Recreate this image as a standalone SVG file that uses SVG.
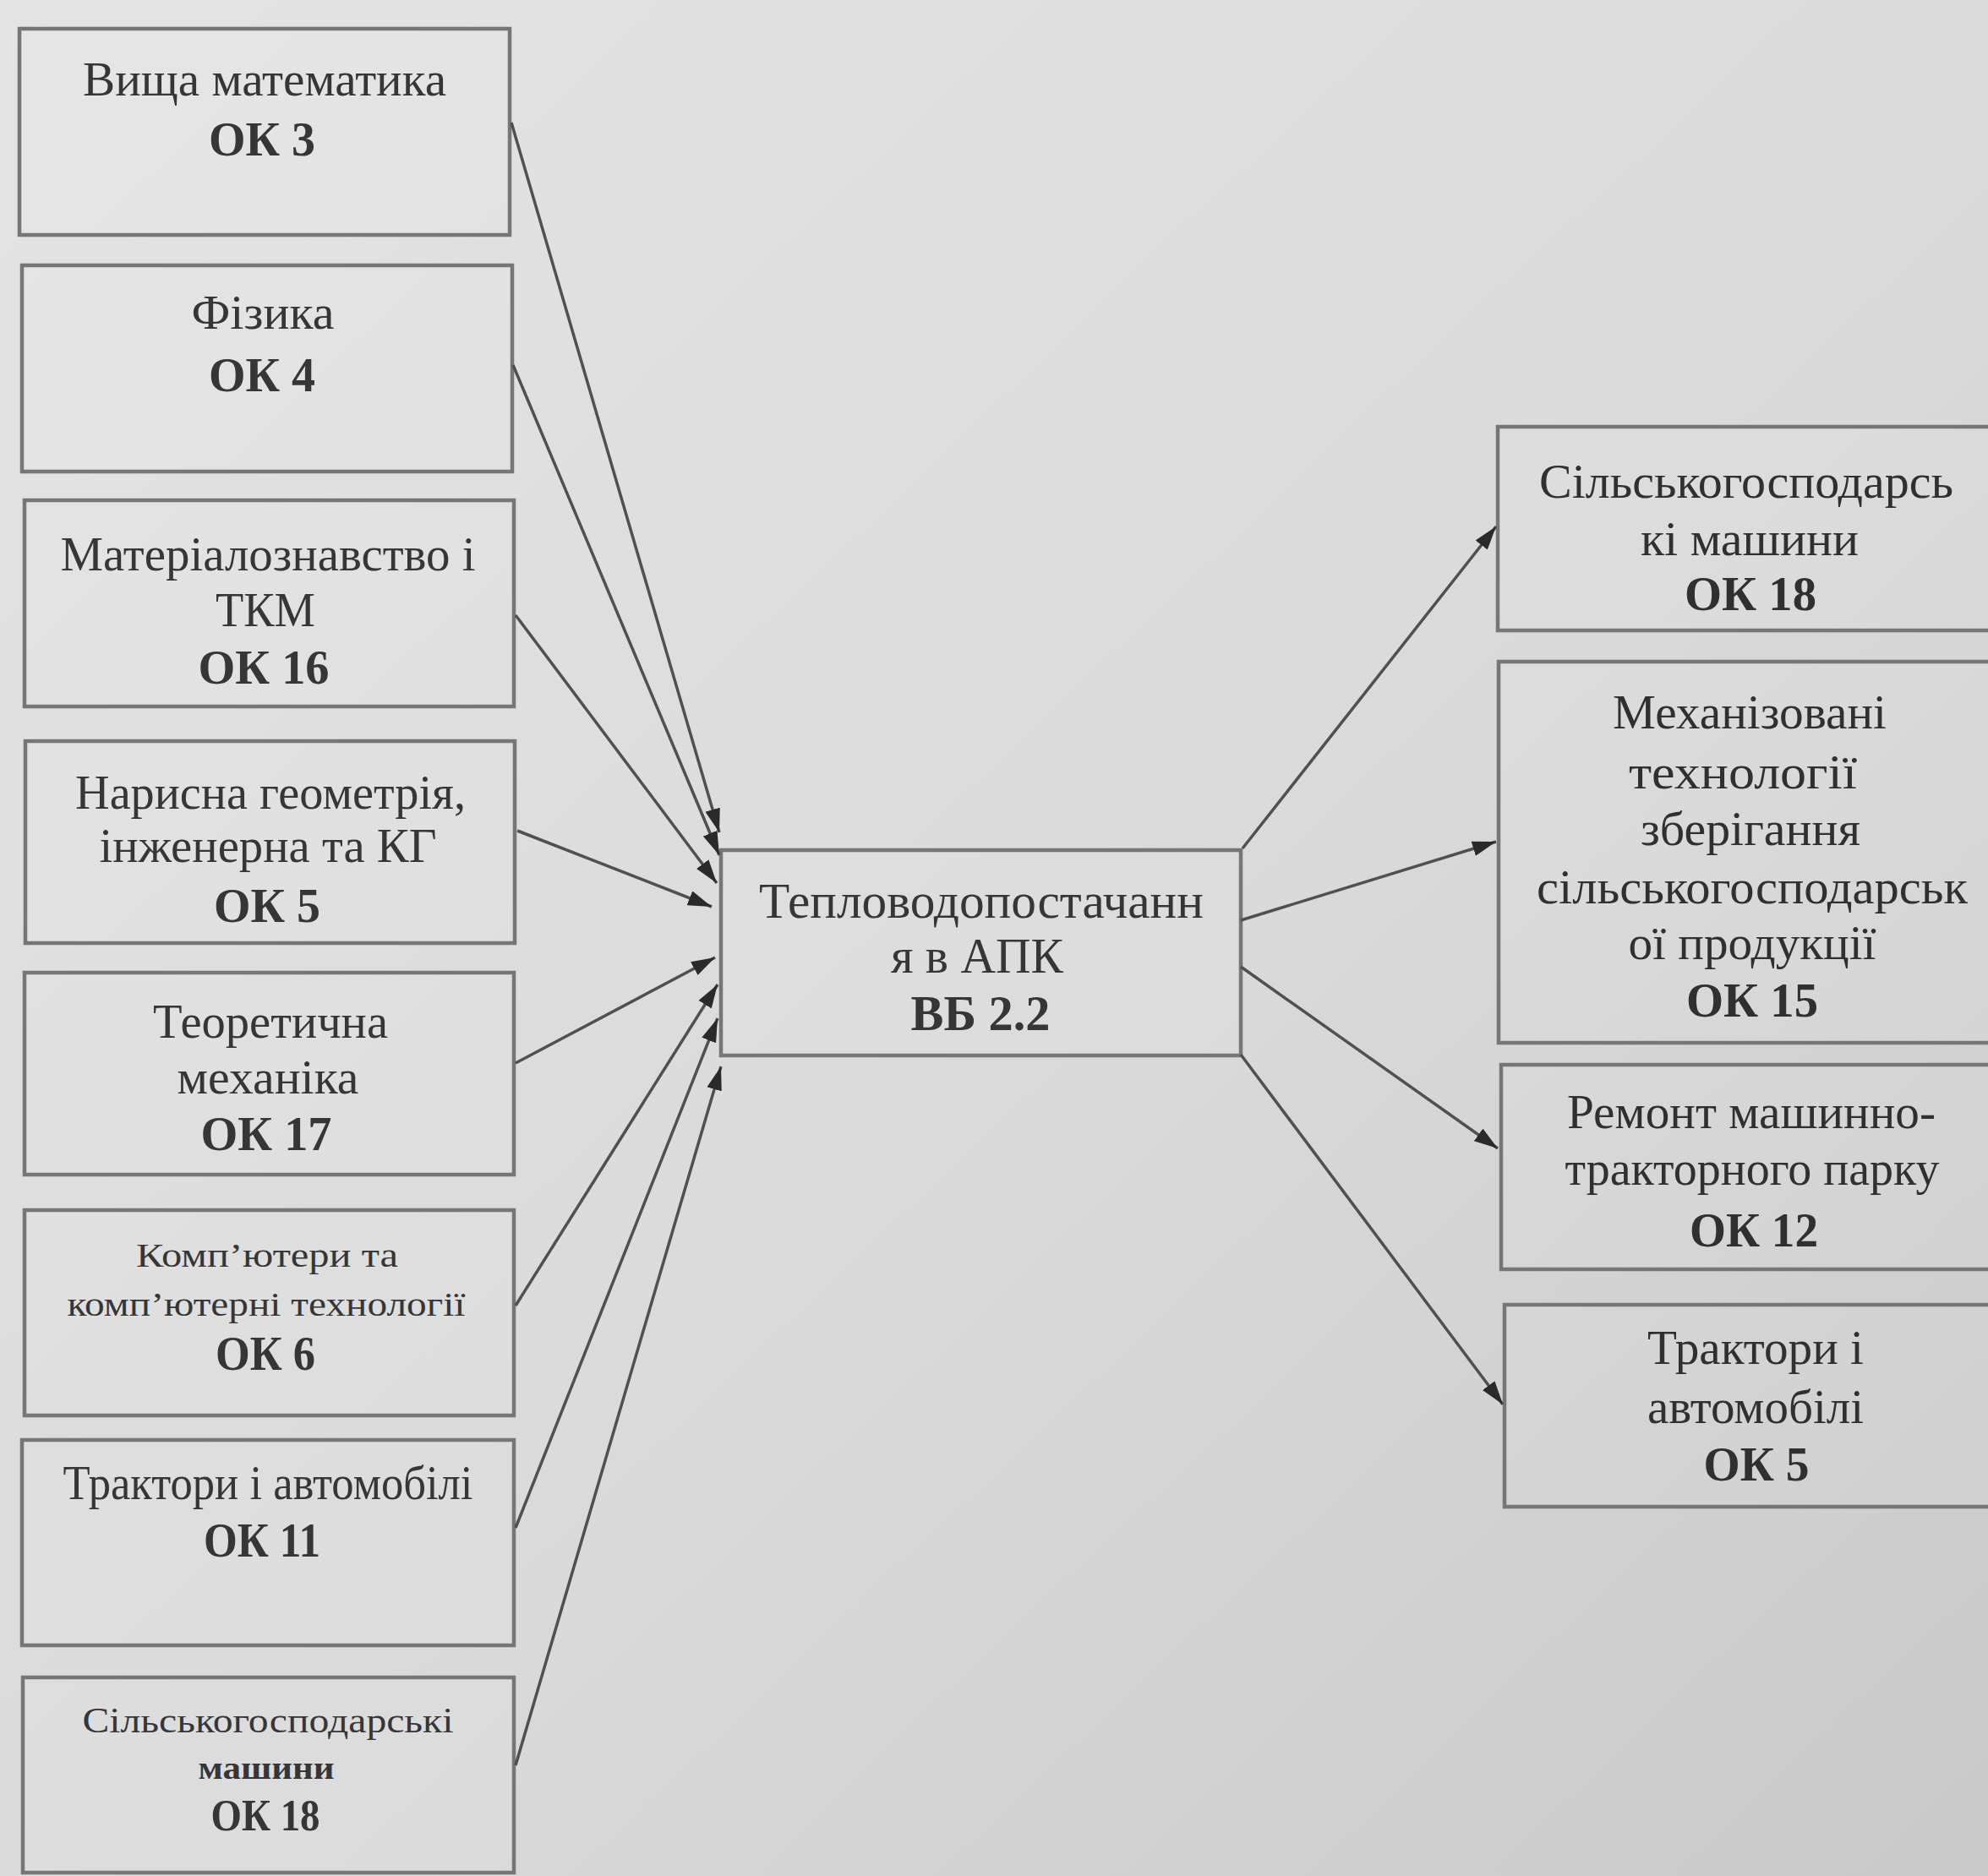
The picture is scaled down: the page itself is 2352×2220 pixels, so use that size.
<svg xmlns="http://www.w3.org/2000/svg" width="2352" height="2220" viewBox="0 0 2352 2220">
<defs>
<linearGradient id="bg" x1="0" y1="0" x2="1" y2="1">
<stop offset="0" stop-color="#e4e4e4"/>
<stop offset="0.55" stop-color="#dadada"/>
<stop offset="1" stop-color="#c9c9c9"/>
</linearGradient>
<marker id="ah" markerUnits="userSpaceOnUse" markerWidth="30" markerHeight="18" refX="28" refY="9" orient="auto">
<path d="M0,0 L28,9 L0,18 z" fill="#2a2a2a"/>
</marker>
<style>
.box{fill:#ffffff;fill-opacity:0.08;stroke:#767676;stroke-width:4.5}
.t{font-family:"Liberation Serif","Times New Roman",serif;fill:#363636;text-anchor:middle}
.r{font-family:"Liberation Serif","Times New Roman",serif;fill:#303030;text-anchor:middle}
.b{font-weight:bold}
.con{stroke:#505050;stroke-width:3.5;fill:none;marker-end:url(#ah)}
</style>
</defs>
<rect width="2352" height="2220" fill="url(#bg)"/>

<g id="n1">
<rect class="box" x="23" y="34" width="580" height="244"/>
<text class="t" x="313" y="113" font-size="56" textLength="430" lengthAdjust="spacingAndGlyphs">Вища математика</text>
<text class="t b" x="310" y="184" font-size="56" textLength="126" lengthAdjust="spacingAndGlyphs">ОК 3</text>
</g>
<g id="n2">
<rect class="box" x="26" y="314" width="580" height="244"/>
<text class="t" x="311" y="389" font-size="56" textLength="169" lengthAdjust="spacingAndGlyphs">Фізика</text>
<text class="t b" x="310" y="463" font-size="56" textLength="126" lengthAdjust="spacingAndGlyphs">ОК 4</text>
</g>
<g id="n3">
<rect class="box" x="29" y="592" width="579" height="244"/>
<text class="t" x="317" y="675" font-size="56" textLength="491" lengthAdjust="spacingAndGlyphs">Матеріалознавство і</text>
<text class="t" x="314" y="741" font-size="56" textLength="118" lengthAdjust="spacingAndGlyphs">ТКМ</text>
<text class="t b" x="312" y="809" font-size="56" textLength="155" lengthAdjust="spacingAndGlyphs">ОК 16</text>
</g>
<g id="n4">
<rect class="box" x="30" y="877" width="579" height="239"/>
<text class="t" x="320" y="957" font-size="56" textLength="462" lengthAdjust="spacingAndGlyphs">Нарисна геометрія,</text>
<text class="t" x="317" y="1020" font-size="56" textLength="399" lengthAdjust="spacingAndGlyphs">інженерна та КГ</text>
<text class="t b" x="316" y="1091" font-size="56" textLength="126" lengthAdjust="spacingAndGlyphs">ОК 5</text>
</g>
<g id="n5">
<rect class="box" x="29" y="1151" width="579" height="239"/>
<text class="t" x="320" y="1228" font-size="56" textLength="278" lengthAdjust="spacingAndGlyphs">Теоретична</text>
<text class="t" x="317" y="1294" font-size="56" textLength="215" lengthAdjust="spacingAndGlyphs">механіка</text>
<text class="t b" x="315" y="1361" font-size="56" textLength="155" lengthAdjust="spacingAndGlyphs">ОК 17</text>
</g>
<g id="n6">
<rect class="box" x="29" y="1432" width="579" height="243"/>
<text class="t" x="316" y="1499" font-size="41" textLength="310" lengthAdjust="spacingAndGlyphs">Комп’ютери та</text>
<text class="t" x="315" y="1557" font-size="41" textLength="471" lengthAdjust="spacingAndGlyphs">комп’ютерні технології</text>
<text class="t b" x="314" y="1621" font-size="56" textLength="118" lengthAdjust="spacingAndGlyphs">ОК 6</text>
</g>
<g id="n7">
<rect class="box" x="26" y="1704" width="582" height="243"/>
<text class="t" x="317" y="1774" font-size="56" textLength="485" lengthAdjust="spacingAndGlyphs">Трактори і автомобілі</text>
<text class="t b" x="310" y="1842" font-size="56" textLength="138" lengthAdjust="spacingAndGlyphs">ОК 11</text>
</g>
<g id="n8">
<rect class="box" x="27" y="1985" width="581" height="231"/>
<text class="t" x="317" y="2050" font-size="43" textLength="439" lengthAdjust="spacingAndGlyphs">Сільськогосподарські</text>
<text class="t b" x="315" y="2105" font-size="38" textLength="161" lengthAdjust="spacingAndGlyphs">машини</text>
<text class="t b" x="314" y="2166" font-size="52" textLength="129" lengthAdjust="spacingAndGlyphs">ОК 18</text>
</g>

<g id="center">
<rect class="box" x="853" y="1006" width="615" height="243"/>
<text class="t" x="1161" y="1086" font-size="60" textLength="526" lengthAdjust="spacingAndGlyphs">Тепловодопостачанн</text>
<text class="t" x="1156" y="1151" font-size="60" textLength="204" lengthAdjust="spacingAndGlyphs">я в АПК</text>
<text class="t b" x="1160" y="1219" font-size="60" textLength="165" lengthAdjust="spacingAndGlyphs">ВБ 2.2</text>
</g>

<g id="r1">
<rect class="box" x="1772" y="505" width="600" height="241"/>
<text class="r" x="2066" y="589" font-size="56" textLength="490" lengthAdjust="spacingAndGlyphs">Сільськогосподарсь</text>
<text class="r" x="2070" y="657" font-size="56" textLength="258" lengthAdjust="spacingAndGlyphs">кі машини</text>
<text class="r b" x="2071" y="722" font-size="56" textLength="156" lengthAdjust="spacingAndGlyphs">ОК 18</text>
</g>
<g id="r2">
<rect class="box" x="1773" y="783" width="600" height="451"/>
<text class="r" x="2070" y="862" font-size="56" textLength="324" lengthAdjust="spacingAndGlyphs">Механізовані</text>
<text class="r" x="2062" y="933" font-size="56" textLength="270" lengthAdjust="spacingAndGlyphs">технології</text>
<text class="r" x="2071" y="1000" font-size="56" textLength="260" lengthAdjust="spacingAndGlyphs">зберігання</text>
<text class="r" x="2073" y="1069" font-size="56" textLength="510" lengthAdjust="spacingAndGlyphs">сільськогосподарськ</text>
<text class="r" x="2073" y="1135" font-size="56" textLength="293" lengthAdjust="spacingAndGlyphs">ої продукції</text>
<text class="r b" x="2073" y="1203" font-size="56" textLength="156" lengthAdjust="spacingAndGlyphs">ОК 15</text>
</g>
<g id="r3">
<rect class="box" x="1776" y="1260" width="600" height="242"/>
<text class="r" x="2072" y="1335" font-size="56" textLength="436" lengthAdjust="spacingAndGlyphs">Ремонт машинно-</text>
<text class="r" x="2073" y="1402" font-size="56" textLength="443" lengthAdjust="spacingAndGlyphs">тракторного парку</text>
<text class="r b" x="2075" y="1475" font-size="56" textLength="152" lengthAdjust="spacingAndGlyphs">ОК 12</text>
</g>
<g id="r4">
<rect class="box" x="1780" y="1544" width="600" height="239"/>
<text class="r" x="2077" y="1614" font-size="56" textLength="256" lengthAdjust="spacingAndGlyphs">Трактори і</text>
<text class="r" x="2077" y="1684" font-size="56" textLength="256" lengthAdjust="spacingAndGlyphs">автомобілі</text>
<text class="r b" x="2078" y="1752" font-size="56" textLength="125" lengthAdjust="spacingAndGlyphs">ОК 5</text>
</g>

<g id="connectors">
<line class="con" x1="605" y1="145" x2="851" y2="985"/>
<line class="con" x1="607" y1="432" x2="851" y2="1012"/>
<line class="con" x1="610" y1="728" x2="848" y2="1045"/>
<line class="con" x1="612" y1="983" x2="842" y2="1073"/>
<line class="con" x1="610" y1="1258" x2="846" y2="1133"/>
<line class="con" x1="610" y1="1545" x2="849" y2="1165"/>
<line class="con" x1="610" y1="1808" x2="849" y2="1205"/>
<line class="con" x1="610" y1="2089" x2="853" y2="1262"/>
<line class="con" x1="1470" y1="1004" x2="1770" y2="623"/>
<line class="con" x1="1468" y1="1089" x2="1770" y2="996"/>
<line class="con" x1="1468" y1="1144" x2="1772" y2="1359"/>
<line class="con" x1="1468" y1="1248" x2="1778" y2="1662"/>
</g>
</svg>
